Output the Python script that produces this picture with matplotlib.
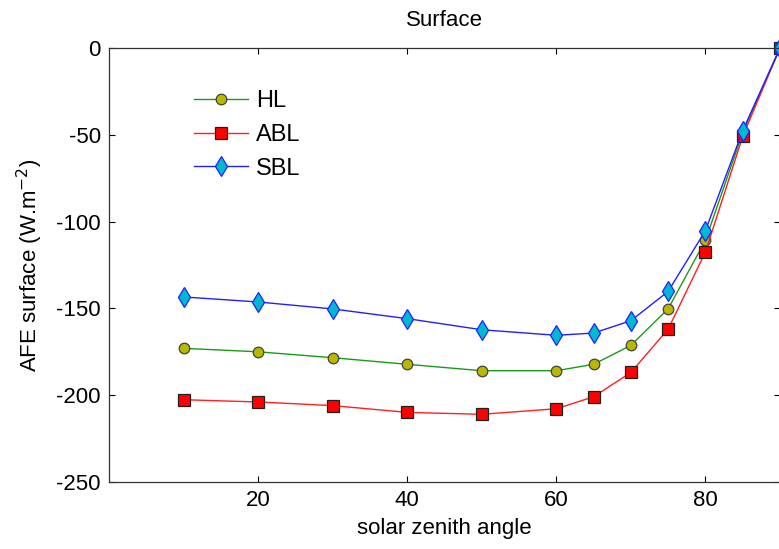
"""
AFE at the surface against solar zenith angle for three aerosol layers.
"""

import matplotlib
matplotlib.use("Agg")
import matplotlib.pyplot as plt

plt.rcParams['font.family'] = ['Liberation Sans', 'DejaVu Sans']
plt.rcParams['axes.unicode_minus'] = False

sza = [10, 20, 30, 40, 50, 60, 65, 70, 75, 80, 85, 90]

hl = [-173.0, -175.0, -178.4, -182.2, -185.9, -185.9, -182.2, -171.3,
      -150.2, -110.8, -48.8, 0.0]
abl = [-202.6, -203.9, -206.0, -209.9, -211.0, -207.8, -200.9, -186.9,
       -161.9, -117.5, -50.9, 0.0]
sbl = [-143.4, -146.3, -150.3, -155.9, -162.3, -165.5, -164.2, -157.1,
       -140.2, -105.2, -47.6, 0.0]

x_ticks = [20, 40, 60, 80]
y_ticks = [0, -50, -100, -150, -200, -250]

fs = 16

fig = plt.figure(figsize=(7.79, 5.49), dpi=100)
ax = fig.add_axes([109 / 779, 67 / 549, 671 / 779, 434 / 549])

ax.plot(sza, hl, '-o', color='#1a9a1a', lw=1.0, ms=7.6,
        mfc='#b8b800', mec='#404040', mew=0.9, label='HL', clip_on=False)
ax.plot(sza, abl, '-s', color='#ff2020', lw=1.0, ms=8.2,
        mfc='#ff0000', mec='#202020', mew=0.9, label='ABL', clip_on=False)
ax.plot(sza, sbl, '-d', color='#2020ff', lw=1.0, ms=10.5,
        mfc='#00b8d0', mec='#2020ff', mew=0.9, label='SBL', clip_on=False)

ax.set_xlim(0, 90)
ax.set_ylim(-250, 0)
ax.set_xticks(x_ticks)
ax.set_yticks(y_ticks)
ax.tick_params(direction='in', top=True, right=True, length=4,
               labelsize=fs, pad=6)
for s in ax.spines.values():
    s.set_linewidth(0.9)
    s.set_color('#333333')

ax.set_title('Surface', fontsize=fs, pad=16)
ax.set_xlabel('solar zenith angle', fontsize=fs, labelpad=5)
ax.set_ylabel('AFE surface (W.m$^{-2}$)', fontsize=fs, labelpad=8)

ax.legend(loc='upper left', bbox_to_anchor=(0.112, 0.925), frameon=False,
          fontsize=17, handlelength=2.3, handletextpad=0.35,
          labelspacing=0.5, borderaxespad=0)

fig.savefig('out.png', dpi=100)
